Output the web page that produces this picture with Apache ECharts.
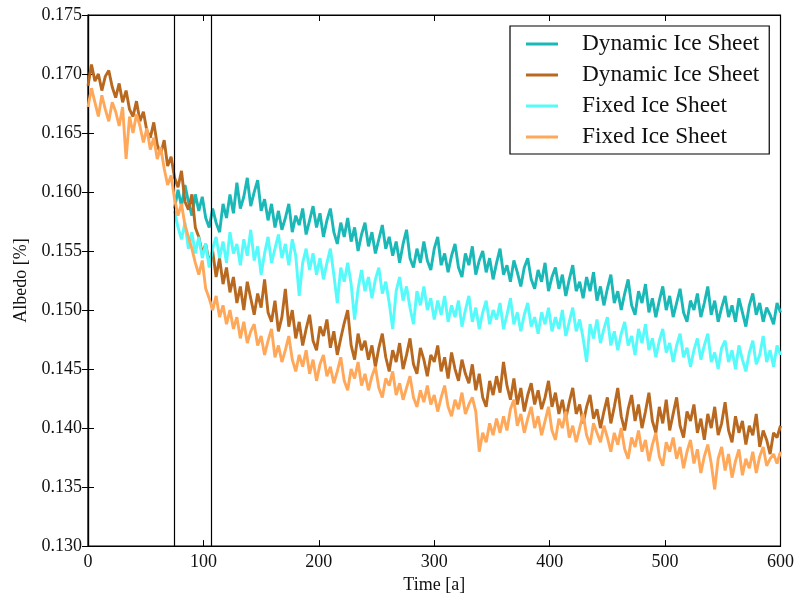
<!DOCTYPE html>
<html>
<head>
<meta charset="utf-8">
<script src="https://cdn.jsdelivr.net/npm/echarts@6/dist/echarts.min.js"></script>
<style>html,body{margin:0;padding:0;background:#fff}#c{width:797px;height:599px}</style>
</head>
<body>
<div id="c"></div>
<script>
// ---- data ----
const seriesNames = ['Dynamic Ice Sheet', 'Dynamic Ice Sheet', 'Fixed Ice Sheet', 'Fixed Ice Sheet'];
const xTicks = [0, 100, 200, 300, 400, 500, 600];
const yTicks = [0.130, 0.135, 0.140, 0.145, 0.150, 0.155, 0.160, 0.165, 0.170, 0.175];
const markerYears = [75, 107];
const fullStart = 0, branchStart = 75, yearStep = 3;

// Dynamic ice sheet (brown), t = 0..600 every 3 years
const dynamicBrown = [
0.1690,0.1708,0.1694,0.1700,0.1686,0.1698,0.1703,0.1689,0.1680,0.1692,
0.1676,0.1686,0.1670,0.1664,0.1677,0.1660,0.1668,0.1652,0.1646,0.1659,
0.1640,0.1632,0.1644,0.1622,0.1630,0.1612,0.1604,0.1618,0.1592,0.1585,
0.1598,0.1570,0.1562,0.1548,0.1556,0.1540,0.1550,0.1528,0.1544,0.1522,
0.1536,0.1515,0.1528,0.1506,0.1520,0.1500,0.1524,0.1510,0.1496,0.1514,
0.1502,0.1526,0.1498,0.1490,0.1508,0.1482,0.1494,0.1518,0.1486,0.1500,
0.1476,0.1490,0.1470,0.1484,0.1496,0.1474,0.1466,0.1486,0.1478,0.1492,
0.1468,0.1482,0.1462,0.1476,0.1489,0.1500,0.1470,0.1458,0.1480,0.1466,
0.1474,0.1458,0.1470,0.1452,0.1468,0.1480,0.1460,0.1448,0.1466,0.1456,
0.1472,0.1450,0.1462,0.1476,0.1454,0.1446,0.1468,0.1458,0.1444,0.1462,
0.1456,0.1470,0.1448,0.1460,0.1442,0.1464,0.1450,0.1440,0.1458,0.1446,
0.1438,0.1454,0.1432,0.1446,0.1426,0.1418,0.1440,0.1428,0.1444,0.1430,
0.1456,0.1436,0.1424,0.1442,0.1420,0.1434,0.1414,0.1428,0.1438,0.1420,
0.1432,0.1416,0.1426,0.1440,0.1418,0.1430,0.1412,0.1424,0.1408,0.1422,
0.1434,0.1412,0.1420,0.1404,0.1418,0.1428,0.1408,0.1416,0.1400,0.1414,
0.1426,0.1404,0.1418,0.1434,0.1410,0.1398,0.1416,0.1428,0.1406,0.1420,
0.1400,0.1414,0.1430,0.1406,0.1396,0.1418,0.1404,0.1424,0.1398,0.1412,
0.1426,0.1402,0.1392,0.1414,0.1406,0.1420,0.1396,0.1408,0.1390,0.1412,
0.1400,0.1418,0.1394,0.1404,0.1422,0.1398,0.1388,0.1410,0.1396,0.1406,
0.1386,0.1402,0.1394,0.1412,0.1384,0.1398,0.1390,0.1378,0.1396,0.1392,
0.1402
];
// Fixed ice sheet (orange), t = 0..600 every 3 years
const fixedOrange = [
0.1672,0.1688,0.1676,0.1664,0.1682,0.1670,0.1660,0.1676,0.1668,0.1656,
0.1672,0.1628,0.1664,0.1650,0.1666,0.1656,0.1642,0.1654,0.1636,0.1646,
0.1628,0.1638,0.1620,0.1606,0.1614,0.1594,0.1580,0.1590,0.1572,0.1562,
0.1552,0.1540,0.1530,0.1542,0.1518,0.1510,0.1500,0.1512,0.1494,0.1504,
0.1488,0.1500,0.1484,0.1494,0.1476,0.1490,0.1472,0.1482,0.1488,0.1470,
0.1478,0.1462,0.1474,0.1484,0.1460,0.1470,0.1456,0.1466,0.1478,0.1458,
0.1448,0.1462,0.1452,0.1466,0.1446,0.1458,0.1440,0.1454,0.1462,0.1444,
0.1452,0.1438,0.1448,0.1460,0.1440,0.1432,0.1450,0.1442,0.1456,0.1436,
0.1446,0.1432,0.1444,0.1452,0.1434,0.1426,0.1442,0.1436,0.1448,0.1428,
0.1438,0.1424,0.1434,0.1444,0.1426,0.1418,0.1432,0.1422,0.1436,0.1420,
0.1428,0.1414,0.1426,0.1436,0.1418,0.1410,0.1424,0.1416,0.1430,0.1412,
0.1420,0.1426,0.1414,0.1380,0.1396,0.1388,0.1404,0.1394,0.1408,0.1396,
0.1410,0.1398,0.1416,0.1424,0.1402,0.1412,0.1396,0.1408,0.1418,0.1400,
0.1410,0.1394,0.1406,0.1418,0.1398,0.1390,0.1408,0.1400,0.1414,0.1392,
0.1402,0.1388,0.1400,0.1412,0.1394,0.1386,0.1404,0.1396,0.1388,0.1402,
0.1392,0.1380,0.1396,0.1386,0.1400,0.1382,0.1374,0.1392,0.1384,0.1398,
0.1380,0.1390,0.1372,0.1386,0.1396,0.1376,0.1368,0.1388,0.1380,0.1392,
0.1374,0.1384,0.1366,0.1380,0.1390,0.1370,0.1382,0.1362,0.1376,0.1386,
0.1370,0.1348,0.1374,0.1384,0.1364,0.1378,0.1358,0.1372,0.1382,0.1360,
0.1374,0.1366,0.1380,0.1362,0.1376,0.1384,0.1368,0.1374,0.1378,0.1370,
0.1380
];
// Dynamic ice sheet (teal), t = 75..600 every 3 years
const dynamicTeal = [
0.1586,0.1602,0.1588,0.1606,0.1592,0.1580,0.1598,0.1584,0.1596,0.1578,
0.1570,0.1586,0.1574,0.1566,0.1590,0.1578,0.1598,0.1582,0.1608,0.1586,
0.1596,0.1612,0.1588,0.1600,0.1610,0.1584,0.1594,0.1576,0.1590,0.1570,
0.1584,0.1568,0.1578,0.1590,0.1566,0.1580,0.1572,0.1586,0.1564,0.1576,
0.1588,0.1570,0.1582,0.1562,0.1576,0.1586,0.1566,0.1556,0.1574,0.1562,
0.1578,0.1558,0.1570,0.1550,0.1564,0.1574,0.1554,0.1566,0.1548,0.1560,
0.1572,0.1552,0.1562,0.1546,0.1558,0.1540,0.1556,0.1568,0.1544,0.1536,
0.1552,0.1540,0.1558,0.1542,0.1534,0.1552,0.1562,0.1538,0.1548,0.1532,
0.1546,0.1556,0.1536,0.1528,0.1548,0.1538,0.1554,0.1530,0.1542,0.1550,
0.1532,0.1544,0.1526,0.1540,0.1552,0.1530,0.1538,0.1524,0.1542,0.1532,
0.1520,0.1536,0.1544,0.1526,0.1518,0.1534,0.1524,0.1540,0.1516,0.1528,
0.1536,0.1518,0.1530,0.1512,0.1526,0.1538,0.1516,0.1524,0.1510,0.1528,
0.1516,0.1532,0.1508,0.1520,0.1504,0.1518,0.1530,0.1506,0.1516,0.1500,
0.1514,0.1526,0.1504,0.1496,0.1516,0.1506,0.1522,0.1498,0.1510,0.1494,
0.1508,0.1520,0.1500,0.1512,0.1494,0.1506,0.1518,0.1498,0.1490,0.1508,
0.1500,0.1514,0.1494,0.1506,0.1520,0.1496,0.1508,0.1490,0.1502,0.1512,
0.1494,0.1504,0.1490,0.1510,0.1498,0.1486,0.1504,0.1514,0.1496,0.1506,
0.1490,0.1502,0.1496,0.1488,0.1506,0.1498
];
// Fixed ice sheet (cyan), t = 75..600 every 3 years
const fixedCyan = [
0.1584,0.1570,0.1560,0.1574,0.1552,0.1566,0.1548,0.1562,0.1544,0.1556,
0.1536,0.1552,0.1562,0.1544,0.1558,0.1540,0.1566,0.1548,0.1556,0.1538,
0.1560,0.1546,0.1568,0.1542,0.1554,0.1530,0.1548,0.1562,0.1540,0.1552,
0.1564,0.1544,0.1556,0.1538,0.1560,0.1546,0.1512,0.1540,0.1552,0.1534,
0.1548,0.1530,0.1544,0.1526,0.1540,0.1552,0.1530,0.1506,0.1536,0.1524,
0.1540,0.1522,0.1492,0.1518,0.1534,0.1516,0.1528,0.1510,0.1526,0.1536,
0.1514,0.1524,0.1506,0.1484,0.1516,0.1528,0.1508,0.1520,0.1502,0.1488,
0.1516,0.1504,0.1520,0.1500,0.1510,0.1492,0.1508,0.1496,0.1512,0.1490,
0.1504,0.1494,0.1508,0.1486,0.1500,0.1512,0.1490,0.1502,0.1484,0.1498,
0.1508,0.1488,0.1500,0.1492,0.1506,0.1484,0.1496,0.1510,0.1488,0.1498,
0.1482,0.1496,0.1506,0.1486,0.1494,0.1480,0.1498,0.1488,0.1502,0.1482,
0.1494,0.1484,0.1500,0.1478,0.1490,0.1502,0.1482,0.1492,0.1476,0.1456,
0.1488,0.1476,0.1492,0.1472,0.1484,0.1494,0.1470,0.1482,0.1466,0.1480,
0.1490,0.1470,0.1478,0.1462,0.1484,0.1472,0.1488,0.1466,0.1476,0.1460,
0.1474,0.1484,0.1464,0.1472,0.1456,0.1470,0.1480,0.1460,0.1468,0.1452,
0.1466,0.1476,0.1458,0.1470,0.1480,0.1456,0.1464,0.1450,0.1468,0.1474,
0.1456,0.1466,0.1450,0.1470,0.1458,0.1448,0.1464,0.1474,0.1454,0.1462,
0.1478,0.1456,0.1466,0.1452,0.1470,0.1462
];

const colors = ['#1bb8b8', '#b8691f', '#55fafa', '#ffa85a'];

function pairs(start, vals) {
  return vals.map((v, i) => [start + i * yearStep, v]);
}

const FONT = '"Liberation Serif", "DejaVu Serif", serif';
const chart = echarts.init(document.getElementById('c'), null, {renderer: 'canvas'});

const seriesData = [
  pairs(branchStart, dynamicTeal),
  pairs(fullStart, dynamicBrown),
  pairs(branchStart, fixedCyan),
  pairs(fullStart, fixedOrange)
];

const series = seriesData.map((d, i) => ({
  name: seriesNames[i] + (i % 2 === 0 ? '' : '\u200b'),
  type: 'line',
  data: d,
  showSymbol: false,
  symbol: 'none',
  animation: false,
  lineStyle: {width: 2.9, color: colors[i]},
  itemStyle: {color: colors[i]},
  z: 2 + i
}));

series.push({
  name: 'markers',
  type: 'line',
  data: [],
  animation: false,
  markLine: {
    silent: true,
    symbol: ['none', 'none'],
    label: {show: false},
    lineStyle: {color: '#000', width: 1.2, type: 'solid'},
    data: markerYears.map(x => ({xAxis: x}))
  }
});

const axisCommon = {
  type: 'value',
  axisLine: {show: true, lineStyle: {color: '#000', width: 1.2}},
  axisTick: {show: true, inside: true, length: 6, lineStyle: {color: '#000', width: 1}},
  splitLine: {show: false}
};

chart.setOption({
  animation: false,
  backgroundColor: '#fff',
  grid: {left: 88, right: 16, top: 15, bottom: 48, show: true, borderColor: '#000', borderWidth: 1.2, backgroundColor: 'transparent'},
  legend: {
    left: 510, top: 26,
    orient: 'vertical',
    data: series.slice(0, 4).map(s => ({name: s.name, icon: 'rect'})),
    itemWidth: 32, itemHeight: 3,
    itemGap: 7,
    padding: [6, 10, 5, 16],
    borderColor: '#000', borderWidth: 1.2,
    backgroundColor: '#fff',
    selectedMode: false,
    textStyle: {fontFamily: FONT, fontSize: 23.3, color: '#111', lineHeight: 24, padding: [0, 0, 0, 19]}
  },
  xAxis: [
    Object.assign({}, axisCommon, {
      min: 0, max: 600, interval: 100, position: 'bottom',
      name: 'Time [a]', nameLocation: 'middle', nameGap: 24,
      nameTextStyle: {fontFamily: FONT, fontSize: 18, color: '#111'},
      axisLabel: {fontFamily: FONT, fontSize: 18, color: '#111', margin: 7}
    }),
    Object.assign({}, axisCommon, {
      min: 0, max: 600, interval: 100, position: 'top',
      axisLabel: {show: false}
    })
  ],
  yAxis: [
    Object.assign({}, axisCommon, {
      min: 0.130, max: 0.175, interval: 0.005, position: 'left',
      name: 'Albedo [%]', nameLocation: 'middle', nameGap: 56,
      nameTextStyle: {fontFamily: FONT, fontSize: 18, color: '#111'},
      axisLabel: {fontFamily: FONT, fontSize: 18, color: '#111', margin: 6,
        formatter: v => v.toFixed(3)}
    }),
    Object.assign({}, axisCommon, {
      min: 0.130, max: 0.175, interval: 0.005, position: 'right',
      axisLabel: {show: false}
    })
  ],
  series: series
});
</script>
</body>
</html>
